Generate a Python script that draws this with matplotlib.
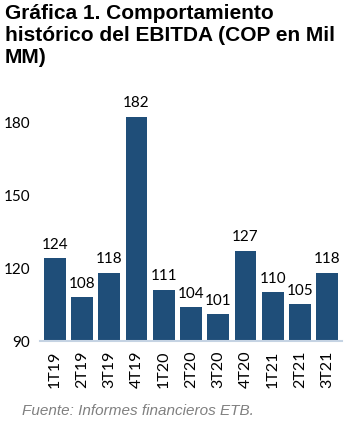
import matplotlib
matplotlib.use('Agg')
import matplotlib.pyplot as plt

# Datos de la gráfica
trimestres = ['1T19', '2T19', '3T19', '4T19', '1T20', '2T20', '3T20', '4T20', '1T21', '2T21', '3T21']
ebitda = [124, 108, 118, 182, 111, 104, 101, 127, 110, 105, 118]
yticks = [90, 120, 150, 180]

fig = plt.figure(figsize=(3.55, 4.35), dpi=100)

# Título
fig.text(5 / 355, 1 - 4 / 435,
         'Gráfica 1. Comportamiento\nhistórico del EBITDA (COP en Mil\nMM)',
         family='Liberation Sans', weight='bold', fontsize=15,
         va='top', ha='left', linespacing=1.2)

ax = fig.add_axes([40 / 355, 1 - 342 / 435, 302 / 355, 244 / 435])
x = range(len(trimestres))
ax.bar(x, ebitda, width=0.8, color='#1F4E79', bottom=0)
ax.set_ylim(90, 190)
ax.set_xlim(-0.55, len(trimestres) - 0.45)

for i, v in enumerate(ebitda):
    ax.text(i, v + 3, str(v), ha='center', va='bottom',
            family='Lato', fontsize=11)

ax.set_yticks(yticks)
ax.set_yticklabels([str(t) for t in yticks], family='Lato', fontsize=11)
ax.set_xticks(list(x))
ax.set_xticklabels(trimestres, rotation=90, family='Lato', fontsize=11.5)
ax.tick_params(axis='y', length=0, pad=7)
ax.tick_params(axis='x', length=0, pad=6)
for s in ['top', 'right', 'left']:
    ax.spines[s].set_visible(False)
ax.spines['bottom'].set_color('#C5D3E3')
ax.spines['bottom'].set_linewidth(1.5)

# Fuente
fig.text(22 / 355, 1 - 411 / 435, 'Fuente: Informes financieros ETB.',
         family='Liberation Sans', style='italic', color='#808080',
         fontsize=11, va='center', ha='left')

fig.savefig('out.png', dpi=100)
